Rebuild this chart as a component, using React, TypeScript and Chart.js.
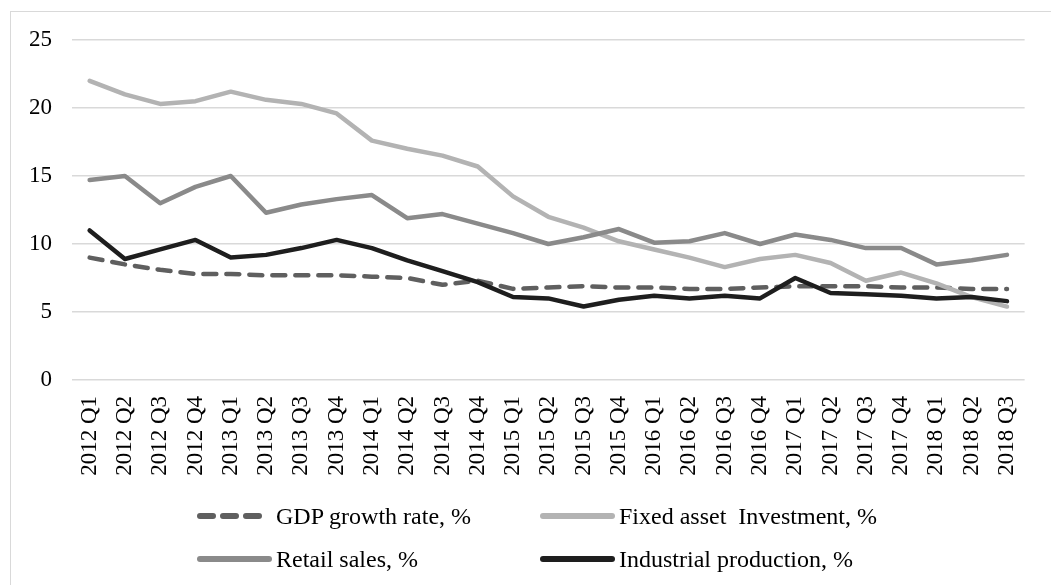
import React, { useEffect, useRef } from "react";
import { Chart, registerables } from "chart.js";

Chart.register(...registerables);

const categories = [
  "2012 Q1", "2012 Q2", "2012 Q3", "2012 Q4",
  "2013 Q1", "2013 Q2", "2013 Q3", "2013 Q4",
  "2014 Q1", "2014 Q2", "2014 Q3", "2014 Q4",
  "2015 Q1", "2015 Q2", "2015 Q3", "2015 Q4",
  "2016 Q1", "2016 Q2", "2016 Q3", "2016 Q4",
  "2017 Q1", "2017 Q2", "2017 Q3", "2017 Q4",
  "2018 Q1", "2018 Q2", "2018 Q3",
];

const gdpGrowth = [9.0, 8.5, 8.1, 7.8, 7.8, 7.7, 7.7, 7.7, 7.6, 7.5, 7.0, 7.3, 6.7, 6.8, 6.9, 6.8, 6.8, 6.7, 6.7, 6.8, 6.9, 6.9, 6.9, 6.8, 6.8, 6.7, 6.7];
const fixedAssetInvestment = [22.0, 21.0, 20.3, 20.5, 21.2, 20.6, 20.3, 19.6, 17.6, 17.0, 16.5, 15.7, 13.5, 12.0, 11.2, 10.2, 9.6, 9.0, 8.3, 8.9, 9.2, 8.6, 7.3, 7.9, 7.1, 6.1, 5.4];
const retailSales = [14.7, 15.0, 13.0, 14.2, 15.0, 12.3, 12.9, 13.3, 13.6, 11.9, 12.2, 11.5, 10.8, 10.0, 10.5, 11.1, 10.1, 10.2, 10.8, 10.0, 10.7, 10.3, 9.7, 9.7, 8.5, 8.8, 9.2];
const industrialProduction = [11.0, 8.9, 9.6, 10.3, 9.0, 9.2, 9.7, 10.3, 9.7, 8.8, 8.0, 7.2, 6.1, 6.0, 5.4, 5.9, 6.2, 6.0, 6.2, 6.0, 7.5, 6.4, 6.3, 6.2, 6.0, 6.1, 5.8];

const yMin = 0;
const yMax = 25;
const yStep = 5;

const seriesNames = [
  "GDP growth rate, %",
  "Fixed asset  Investment, %",
  "Retail sales, %",
  "Industrial production, %",
];
const seriesColors = ["#5f5f5f", "#b3b3b3", "#8a8a8a", "#1e1e1e"];
const seriesDashed = [true, false, false, false];

const FONT = "'Liberation Serif', 'Times New Roman', serif";

function LegendItem({ name, color, dashed, left, top }: any) {
  return (
    <div style={{ position: "absolute", left, top, height: 30, display: "flex", alignItems: "center", whiteSpace: "pre" }}>
      <svg width={79} height={12} style={{ display: "block" }}>
        {dashed ? (
          <line x1={3} y1={6} x2={64} y2={6} stroke={color} strokeWidth={6} strokeLinecap="round" strokeDasharray="13 10" />
        ) : (
          <line x1={3} y1={6} x2={72} y2={6} stroke={color} strokeWidth={6} strokeLinecap="round" />
        )}
      </svg>
      <span style={{ fontFamily: FONT, fontSize: 24, color: "#000", lineHeight: "30px" }}>{name}</span>
    </div>
  );
}

export default function App() {
  const canvasRef = useRef<HTMLCanvasElement | null>(null);

  useEffect(() => {
    const seriesData = [gdpGrowth, fixedAssetInvestment, retailSales, industrialProduction];
    const datasets = seriesData.map((d, i) => ({
      label: seriesNames[i],
      data: d,
      borderColor: seriesColors[i],
      backgroundColor: seriesColors[i],
      borderWidth: 4.5,
      borderDash: seriesDashed[i] ? [13, 10] : [],
      borderCapStyle: "round" as const,
      borderJoinStyle: "round" as const,
      pointRadius: 0,
      tension: 0,
      fill: false,
      order: 4 - i,
    }));

    const chart = new Chart(canvasRef.current as HTMLCanvasElement, {
      type: "line",
      data: { labels: categories, datasets },
      options: {
        animation: false,
        responsive: false,
        devicePixelRatio: 1,
        layout: { padding: { left: 0, right: 22, top: 40, bottom: 0 } },
        plugins: { legend: { display: false }, tooltip: { enabled: false } },
        scales: {
          x: {
            offset: true,
            grid: { display: false, drawTicks: false },
            border: { display: false },
            ticks: {
              autoSkip: false,
              maxRotation: 90,
              minRotation: 90,
              padding: 16,
              color: "#000",
              font: { family: FONT, size: 23 },
            },
            afterFit: (scale: any) => {
              scale.height = 205;
            },
          },
          y: {
            min: yMin,
            max: yMax,
            grid: { color: "#d9d9d9", lineWidth: 1.5, drawTicks: false },
            border: { display: false },
            ticks: {
              stepSize: yStep,
              padding: 20,
              color: "#000",
              font: { family: FONT, size: 23 },
            },
            afterFit: (scale: any) => {
              scale.width = 72;
            },
          },
        },
      },
    });
    return () => chart.destroy();
  }, []);

  return (
    <div style={{ position: "absolute", left: 0, top: 0, width: 1051, height: 585, overflow: "hidden", background: "#fff" }}>
      <div style={{ position: "absolute", left: 10, top: 11, width: 1100, height: 700, borderLeft: "1.5px solid #d9d9d9", borderTop: "1.5px solid #d9d9d9" }} />
      <canvas ref={canvasRef} width={1051} height={585} style={{ position: "absolute", left: 0, top: 0, width: 1051, height: 585 }} />
      <LegendItem name={seriesNames[0]} color={seriesColors[0]} dashed={seriesDashed[0]} left={197} top={501} />
      <LegendItem name={seriesNames[1]} color={seriesColors[1]} dashed={seriesDashed[1]} left={540} top={501} />
      <LegendItem name={seriesNames[2]} color={seriesColors[2]} dashed={seriesDashed[2]} left={197} top={544} />
      <LegendItem name={seriesNames[3]} color={seriesColors[3]} dashed={seriesDashed[3]} left={540} top={544} />
    </div>
  );
}
